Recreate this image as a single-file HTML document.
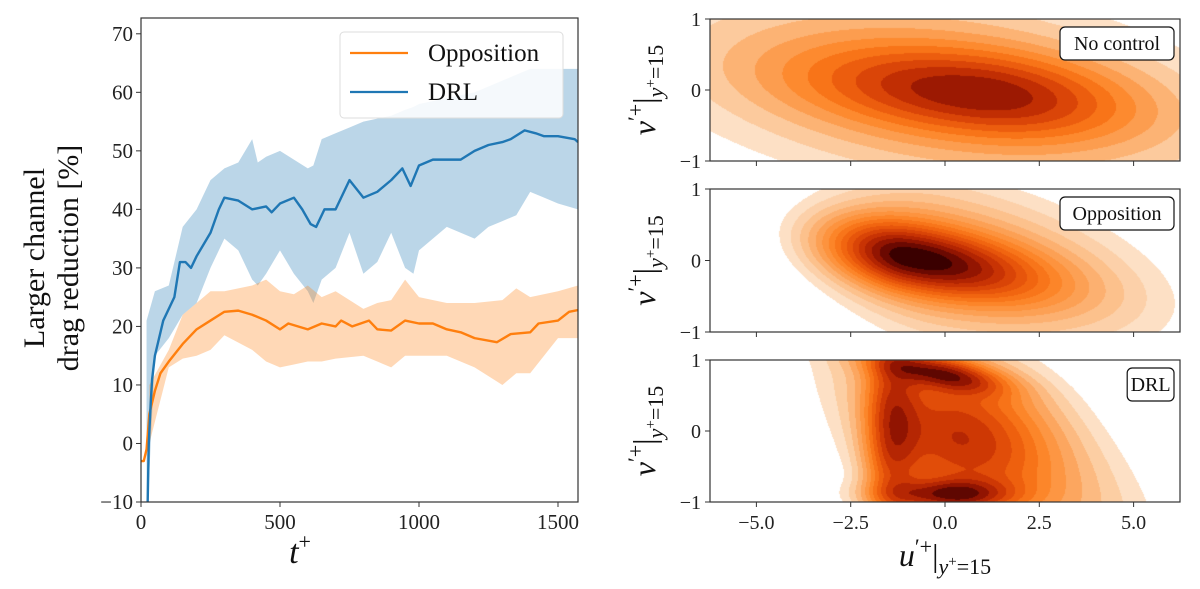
<!DOCTYPE html>
<html><head><meta charset="utf-8">
<style>
html,body{margin:0;padding:0;background:#fff;}
#wrap{position:relative;width:1200px;height:589px;overflow:hidden;font-family:"Liberation Serif",serif;}
canvas{position:absolute;}
svg{position:absolute;left:0;top:0;}
</style></head>
<body>
<div id="wrap">
<canvas id="c0"></canvas>
<canvas id="c1"></canvas>
<canvas id="c2"></canvas>
<svg id="svg" width="1200" height="589" xmlns="http://www.w3.org/2000/svg"></svg>
</div>
<script>
// ---- Left chart data ----
const drlT=[0,15,22,28,35,40,50,60,80,100,120,140,160,180,200,250,280,300,350,400,450,470,500,550,580,610,630,660,700,750,800,850,900,940,970,1000,1050,1100,1150,1200,1250,1300,1330,1380,1420,1450,1500,1560,1572];
const drlMean=[-15,-15,-15,0,7,11,15,17,21,23,25,31,31,30,32,36,40,42,41.5,40,40.5,39.5,41,42,40,37.5,37,40,40,45,42,43,45,47,44,47.5,48.5,48.5,48.5,50,51,51.5,52,53.5,53,52.5,52.5,52,51.5];
const drlBandT=[20,50,100,150,200,250,300,350,400,420,450,500,550,600,620,650,700,750,800,850,900,950,980,1000,1050,1100,1150,1200,1250,1300,1350,1400,1450,1500,1572];
const drlUpper=[21,26,27,37,40,45,47,48,52,48,49,50,48.5,47,47.5,52,53,54,55,55.5,56,57,57.5,58,58.5,59,59.5,60,61,62,63,64,64,64,64];
const drlLower=[-15,15,18,22,24,30,35,33,28,27,29,33,29,26,24,28,30,36,29,31,36,30,29,33,35,37,36,35,37,38,39,43,42,41,40];
const oppT=[0,10,20,30,50,70,100,150,200,250,300,350,400,450,500,530,600,650,700,720,760,820,850,900,950,1000,1050,1100,1150,1200,1280,1330,1400,1430,1500,1540,1572];
const oppMean=[-3,-3,-1,5,9,12,14,17,19.5,21,22.5,22.7,22,21,19.5,20.5,19.5,20.5,20,21,20,21,19.5,19.3,21,20.5,20.5,19.5,19,18,17.3,18.7,19,20.5,21,22.5,22.8];
const oppBandT=[30,100,150,200,250,300,400,450,500,550,600,650,700,800,850,900,950,1000,1100,1200,1300,1350,1400,1500,1572];
const oppUpper=[10,16,22,24,26,26,27,28,26,25.5,27,25,26,23,24,24.5,28,25,24,24,24.5,26.5,25,26,27];
const oppLower=[0,13,14.5,15,16,18.5,16,14,13,13.5,14,14,14.5,15,14,13,15,15,15,13,10,12,12,18,18];
const xTicks=[0,500,1000,1500];
const yTicks=[-10,0,10,20,30,40,50,60,70];

// ---- Right panels: density components (amplitude, u0, v0, sigmaLeft, sigmaRight, sigmaV, tilt) ----
const noControlComps=[[1,1,-0.05,2.8,2.3,0.36,-0.05],[0.4,0,0,4,4,0.75,-0.07]];
const oppositionComps=[[1,-1,0.05,1.3,2.2,0.3,-0.09],[0.3,0,0,2.0,3.3,0.7,-0.1]];
const drlComps=[[0.4,0.5,-0.05,2.0,2.5,0.75,-0.28],[0.7,0,0.8,1.2,1.0,0.15,-0.1],[0.75,0.2,-0.9,1.2,1.0,0.15,0],[0.55,-1.4,0,0.45,0.5,0.9,0],[0.4,0.3,-0.15,1.3,1.5,0.6,0]];
const uTicks=[-5,-2.5,0,2.5,5];
const uTickLabels=["\u22125.0","\u22122.5","0.0","2.5","5.0"];
const vTicks=[-1,0,1];
const panelLabels=["No control","Opposition","DRL"];

const NS="http://www.w3.org/2000/svg";
const svg=document.getElementById('svg');
function mk(tag,attrs,parent){const e=document.createElementNS(NS,tag);for(const k in attrs)e.setAttribute(k,attrs[k]);(parent||svg).appendChild(e);return e;}

// Left axes
const L={x0:141,x1:578,y0:18,y1:502};
const xmax=1572, ymin=-10, ymax=72.7;
const sx=t=>L.x0+(t/xmax)*(L.x1-L.x0);
const sy=v=>L.y1-(v-ymin)/(ymax-ymin)*(L.y1-L.y0);
const defs=mk('defs',{});
const cp=mk('clipPath',{id:'clipL'},defs);
mk('rect',{x:L.x0,y:L.y0,width:L.x1-L.x0,height:L.y1-L.y0},cp);
const g=mk('g',{'clip-path':'url(#clipL)'});

function band(T,U,Lo,color,name){
  let d='';T.forEach((t,i)=>{d+=(i?'L':'M')+sx(t)+','+sy(U[i]);});
  for(let i=T.length-1;i>=0;i--)d+='L'+sx(T[i])+','+sy(Lo[i]);
  const p=mk('path',{d:d+'Z',fill:color,'fill-opacity':0.3,stroke:'none'},g);
  
}
function line(T,V,color,name){
  const p=mk('polyline',{points:T.map((t,i)=>sx(t)+','+sy(V[i])).join(' '),fill:'none',stroke:color,'stroke-width':2.4,'stroke-linejoin':'round'},g);
  
}
band(drlBandT,drlUpper,drlLower,'#1f77b4','drl-band');
band(oppBandT,oppUpper,oppLower,'#ff7f0e','opposition-band');
line(oppT,oppMean,'#ff7f0e','opposition-line');
line(drlT,drlMean,'#1f77b4','drl-line');
const fr=mk('rect',{x:L.x0,y:L.y0,width:L.x1-L.x0,height:L.y1-L.y0,fill:'none',stroke:'#333','stroke-width':1.2});

xTicks.forEach(t=>{
  mk('line',{x1:sx(t),x2:sx(t),y1:L.y1,y2:L.y1+5,stroke:'#333'});
  const tx=mk('text',{x:sx(t),y:L.y1+27,'font-size':21,'text-anchor':'middle',fill:'#222'});tx.textContent=t;
  
});
yTicks.forEach(v=>{
  mk('line',{x1:L.x0-5,x2:L.x0,y1:sy(v),y2:sy(v),stroke:'#333'});
  const tx=mk('text',{x:L.x0-8,y:sy(v)+7,'font-size':21,'text-anchor':'end',fill:'#222'});tx.textContent=v<0?'\u2212'+(-v):v;
  
});
let xt=mk('text',{x:300,y:563,'font-size':34,'font-style':'italic','text-anchor':'middle',fill:'#111'});
xt.innerHTML='t<tspan dy="-14" font-size="22" font-style="normal">+</tspan>';

let yt=mk('text',{transform:'translate(44,258) rotate(-90)','font-size':30,'text-anchor':'middle',fill:'#111'});
yt.textContent='Larger channel';
let yt2=mk('text',{transform:'translate(78,258) rotate(-90)','font-size':30,'text-anchor':'middle',fill:'#111'});
yt2.textContent='drag reduction [%]';
// legend
const lg=mk('g',{});
mk('rect',{x:340,y:32,width:223,height:86,rx:4,fill:'#fff','fill-opacity':0.85,stroke:'#ddd'},lg);
mk('line',{x1:350,x2:408,y1:53,y2:53,stroke:'#ff7f0e','stroke-width':2.2},lg);
mk('line',{x1:350,x2:408,y1:92,y2:92,stroke:'#1f77b4','stroke-width':2.2},lg);
let l1=mk('text',{x:428,y:61,'font-size':25,fill:'#111'},lg);l1.textContent='Opposition';
let l2=mk('text',{x:428,y:100,'font-size':25,fill:'#111'},lg);l2.textContent='DRL';

// ---- Right panels ----
const R={x0:710,x1:1180,umin:-6.23,umax:6.23};
const panels=[{y0:19,y1:161,comps:noControlComps,N:10,tmax:0.85,gam:0.55},{y0:189,y1:332,comps:oppositionComps,N:16,tmax:1,gam:0.6},{y0:360,y1:502,comps:drlComps,N:13,tmax:0.95,gam:0.6}];
const su=u=>R.x0+(u-R.umin)/(R.umax-R.umin)*(R.x1-R.x0);
const stops=[[0,'#fde0c5'],[0.12,'#fcc492'],[0.25,'#fca35a'],[0.38,'#fd8a2e'],[0.5,'#f66d12'],[0.62,'#e4500a'],[0.72,'#cc3604'],[0.82,'#ac1f02'],[0.91,'#7c0c01'],[1,'#3a0000']];
function hex(h){return [parseInt(h.slice(1,3),16),parseInt(h.slice(3,5),16),parseInt(h.slice(5,7),16)];}
function ramp(t){for(let i=1;i<stops.length;i++){if(t<=stops[i][0]){const a=stops[i-1],b=stops[i];const f=(t-a[0])/(b[0]-a[0]);const ca=hex(a[1]),cb=hex(b[1]);return ca.map((c,j)=>Math.round(c+(cb[j]-c)*f));}}return hex(stops[stops.length-1][1]);}
function dens(comps,u,v){let s=0;for(const c of comps){const du=u-c[1];const sg=du<0?c[3]:c[4];const dv=v-c[2]-c[6]*du;s+=c[0]*Math.exp(-0.5*(du*du/(sg*sg)+dv*dv/(c[5]*c[5])));}return s;}
panels.forEach((P,pi)=>{
  const cv=document.getElementById('c'+pi);
  const W=R.x1-R.x0,H=P.y1-P.y0;
  cv.width=W;cv.height=H;cv.style.left=R.x0+'px';cv.style.top=P.y0+'px';
  const ctx=cv.getContext('2d');const img=ctx.createImageData(W,H);
  const vals=new Float32Array(W*H);let fmax=0;
  for(let j=0;j<H;j++)for(let i=0;i<W;i++){const u=R.umin+(i+0.5)/W*(R.umax-R.umin);const v=1-2*(j+0.5)/H;const f=dens(P.comps,u,v);vals[j*W+i]=f;if(f>fmax)fmax=f;}
  for(let k=0;k<W*H;k++){const q=Math.pow(vals[k]/fmax,P.gam);let c=[255,255,255];if(q>=0.16){const lv=Math.min(P.N-1,Math.floor((q-0.16)/0.84*P.N));c=ramp(lv/(P.N-1)*P.tmax);}img.data[k*4]=c[0];img.data[k*4+1]=c[1];img.data[k*4+2]=c[2];img.data[k*4+3]=255;}
  ctx.putImageData(img,0,0);
  const svy=v=>P.y1-(v+1)/2*(P.y1-P.y0);
  const f=mk('rect',{x:R.x0,y:P.y0,width:R.x1-R.x0,height:P.y1-P.y0,fill:'none',stroke:'#333','stroke-width':1.2});
  
  vTicks.forEach(v=>{mk('line',{x1:R.x0-5,x2:R.x0,y1:svy(v),y2:svy(v),stroke:'#333'});
    const t=mk('text',{x:R.x0-9,y:svy(v)+7,'font-size':20,'text-anchor':'end',fill:'#222'});t.textContent=v<0?'\u22121':v;
    });
  uTicks.forEach((u,k)=>{mk('line',{x1:su(u),x2:su(u),y1:P.y1,y2:P.y1+5,stroke:'#333'});
    if(pi===2){const t=mk('text',{x:su(u),y:P.y1+27,'font-size':20,'text-anchor':'middle',fill:'#222'});t.textContent=uTickLabels[k];
      }});
  const lab=panelLabels[pi];const bw=lab.length*9.6+18;
  const bx=R.x1-6-bw,by=P.y0+8;
  const b=mk('rect',{x:bx,y:by,width:bw,height:33,rx:5,fill:'#fff',stroke:'#111','stroke-width':1.2});
  
  const t=mk('text',{x:bx+bw/2,y:by+23,'font-size':20,'text-anchor':'middle',fill:'#111'});t.textContent=lab;
  
  const yl=mk('text',{transform:'translate(655,'+((P.y0+P.y1)/2)+') rotate(-90)','font-size':32,'text-anchor':'middle',fill:'#111'});
  yl.innerHTML='<tspan font-style="italic">v</tspan><tspan dy="-12" font-size="22">\u2032+</tspan><tspan dy="12">|</tspan><tspan dy="8" font-size="22" font-style="italic">y</tspan><tspan dy="-8" font-size="15">+</tspan><tspan dy="8" font-size="22">=15</tspan>';
  
});
const ul=mk('text',{x:945,y:566,'font-size':32,'text-anchor':'middle',fill:'#111'});
ul.innerHTML='<tspan font-style="italic">u</tspan><tspan dy="-12" font-size="22">\u2032+</tspan><tspan dy="12">|</tspan><tspan dy="8" font-size="22" font-style="italic">y</tspan><tspan dy="-8" font-size="15">+</tspan><tspan dy="8" font-size="22">=15</tspan>';

</script>
</body></html>
